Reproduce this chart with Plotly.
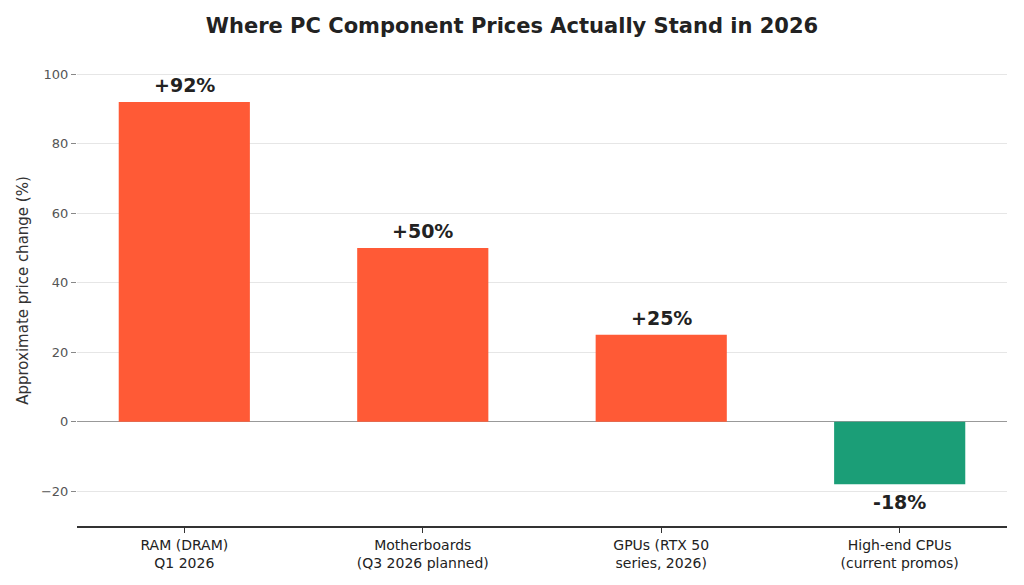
import plotly.graph_objects as go

categories = ["RAM (DRAM)<br>Q1 2026", "Motherboards<br>(Q3 2026 planned)",
              "GPUs (RTX 50<br>series, 2026)", "High-end CPUs<br>(current promos)"]
values = [92, 50, 25, -18]
labels = ["+92%", "+50%", "+25%", "-18%"]
colors = ["#FF5A36" if v > 0 else "#1B9E77" for v in values]
y_ticks = [-20, 0, 20, 40, 60, 80, 100]
y_tick_text = ["\u221220", "0", "20", "40", "60", "80", "100"]

x_pos = list(range(len(categories)))

fig = go.Figure()
fig.add_trace(go.Bar(
    x=x_pos, y=values, width=0.55,
    marker=dict(color=colors, line=dict(width=0)),
    hoverinfo="skip",
))

for xp, v, lab in zip(x_pos, values, labels):
    fig.add_annotation(
        x=xp, y=v, text="<b>%s</b>" % lab, showarrow=False,
        yanchor="bottom" if v >= 0 else "top",
        yshift=4 if v >= 0 else -5,
        font=dict(family="DejaVu Sans", size=19, color="#222222"),
    )

fig.update_layout(
    width=1024, height=585,
    paper_bgcolor="white", plot_bgcolor="white",
    margin=dict(l=77, r=17, t=55, b=59),
    showlegend=False,
    title=dict(text="<b>Where PC Component Prices Actually Stand in 2026</b>",
               x=0.5, xanchor="center", y=1 - 26 / 585, yanchor="middle",
               font=dict(family="DejaVu Sans", size=21, color="#222222")),
    font=dict(family="DejaVu Sans", color="#333333"),
)
fig.update_xaxes(
    range=[-0.45, 3.45], tickmode="array", tickvals=x_pos,
    ticktext=categories, ticks="outside", ticklen=5, tickcolor="#333333",
    showline=True, linecolor="#333333", linewidth=1.5, showgrid=False,
    tickfont=dict(size=14, color="#222222"), zeroline=False, automargin=False,
)
fig.update_yaxes(
    range=[-30, 105.5], tickmode="array", tickvals=y_ticks, ticktext=y_tick_text,
    ticks="outside", ticklen=5, tickcolor="#888888",
    showgrid=True, gridcolor="#E6E6E6", gridwidth=1,
    zeroline=True, zerolinecolor="#999999", zerolinewidth=1.2,
    showline=False, automargin=False,
    tickfont=dict(size=13, color="#555555"),
    title=dict(text="Approximate price change (%)", font=dict(size=15, color="#333333"), standoff=8),
)

fig.write_html("out.html", config={"displayModeBar": False},
               post_script="document.body.style.margin='0';")
